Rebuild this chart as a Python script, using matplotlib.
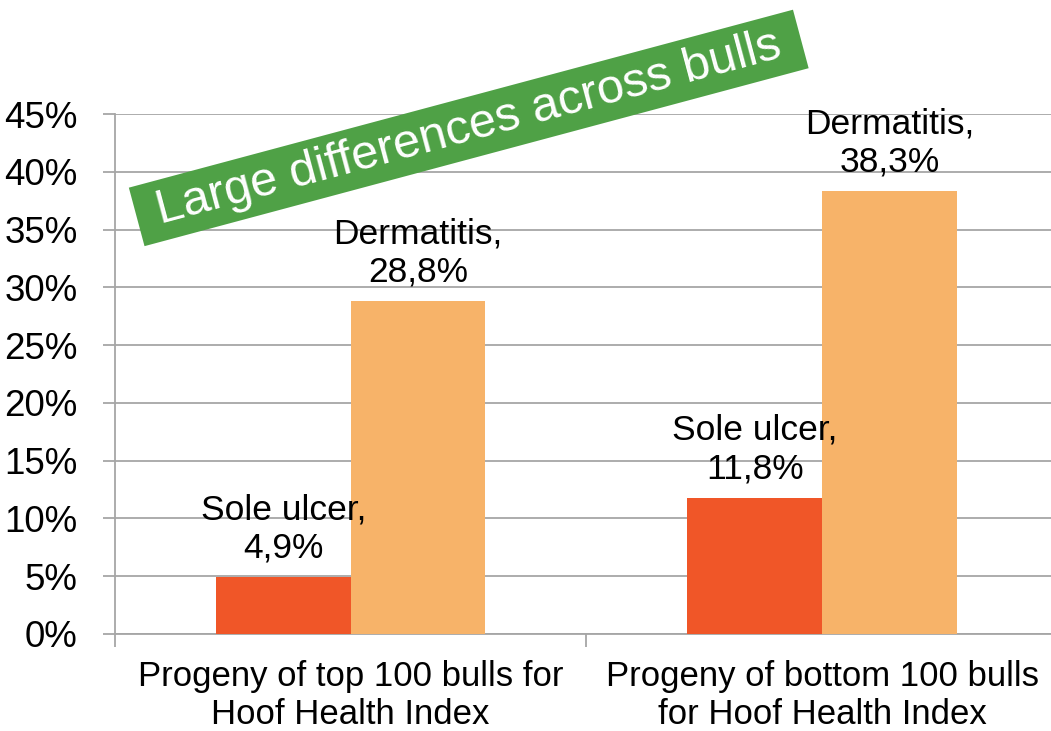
import matplotlib
matplotlib.use('Agg')
import matplotlib.pyplot as plt
import numpy as np

categories = ['Progeny of top 100 bulls for\nHoof Health Index',
              'Progeny of bottom 100 bulls\nfor Hoof Health Index']
sole_ulcer = [4.9, 11.8]
dermatitis = [28.8, 38.3]
sole_lbl = ['Sole ulcer,\n4,9%', 'Sole ulcer,\n11,8%']
derm_lbl = ['Dermatitis,\n28,8%', 'Dermatitis,\n38,3%']
yticks = [0, 5, 10, 15, 20, 25, 30, 35, 40, 45]

plt.rcParams['font.family'] = ['Liberation Sans', 'DejaVu Sans']

fig = plt.figure(figsize=(10.51, 7.31), dpi=100)
ax = fig.add_axes([0.1094, 0.1327, 0.897, 0.7113])

x = np.arange(len(categories))
w = 0.286
b1 = ax.bar(x - w / 2, sole_ulcer, w, color='#f05628', zorder=3)
b2 = ax.bar(x + w / 2, dermatitis, w, color='#f7b369', zorder=3)

for bars, labels in ((b1, sole_lbl), (b2, derm_lbl)):
    for r, t in zip(bars, labels):
        ax.annotate(t, (r.get_x() + r.get_width() / 2, r.get_height()),
                    xytext=(0, 9), textcoords='offset points',
                    ha='center', va='bottom', fontsize=25.5, linespacing=1.2)

ax.set_xlim(-0.5, 1.5)
ax.set_ylim(0, 45)
ax.set_yticks(yticks)
ax.set_yticklabels([f'{v}%' for v in yticks])
ax.set_xticks(x)
ax.set_xticklabels(categories, fontsize=25, linespacing=1.18)
ax.set_xticks([-0.5, 0.5, 1.5], minor=True)
ax.tick_params(axis='x', which='major', length=0, pad=19)
ax.tick_params(axis='x', which='minor', length=9, color='#a6a6a6', width=1.3)
ax.tick_params(axis='y', length=9, color='#a6a6a6', width=1.3, pad=18, labelsize=26.5)

ax.grid(axis='y', color='#a6a6a6', linewidth=1.3, zorder=0)
for s in ['top', 'right']:
    ax.spines[s].set_visible(False)
for s in ['left', 'bottom']:
    ax.spines[s].set_color('#a6a6a6')
    ax.spines[s].set_linewidth(1.3)

fig.text(0.446, 0.825, ' Large differences across bulls ', color='white',
         fontsize=35, rotation=15, rotation_mode='anchor', ha='center', va='center',
         bbox=dict(boxstyle='square,pad=0.16', fc='#4fa146', ec='none'))

fig.savefig('out.png', dpi=100)
